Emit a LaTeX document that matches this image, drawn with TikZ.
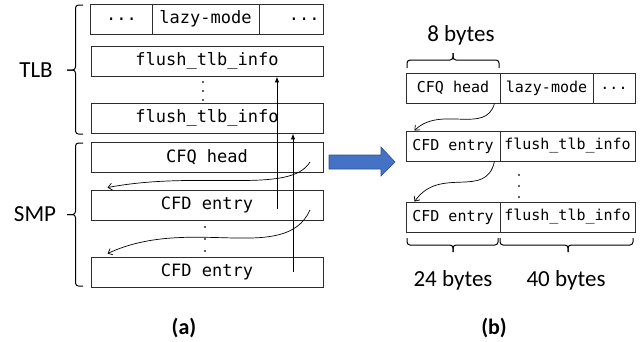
\documentclass[tikz,border=0pt]{standalone}
\usepackage{fontspec}
\setmainfont{Carlito}
\newfontfamily\codefont{DejaVu Sans Mono}
\usetikzlibrary{arrows.meta}
\definecolor{framegray}{RGB}{45,45,45}
\definecolor{flowblue}{RGB}{68,114,196}
\definecolor{flowedge}{RGB}{47,82,143}
\tikzset{
  cell/.style    = {draw=framegray, line width=0.9pt, minimum height=30pt,
                    inner sep=0pt, font=\codefont\fontsize{17}{20}\selectfont},
  cellb/.style   = {cell, font=\codefont\fontsize{15}{18}\selectfont},
  tag/.style     = {font=\fontsize{23}{27}\selectfont, inner sep=0pt},
  sub/.style     = {tag, font=\fontsize{22}{26}\selectfont\bfseries},
  % braces: short hooks, straight bar, short stem
  brc/.style     = {draw=black, line width=1pt, rounded corners=3pt},
  uparr/.style   = {-{Latex[length=6pt,width=4.5pt]}, line width=0.9pt},
  ptr/.style     = {-{Straight Barb[length=4pt,width=7pt]}, line width=0.7pt},
}

\begin{document}
\begin{tikzpicture}[x=1pt, y=-1pt]
    \useasboundingbox (0,0) rectangle (644,341);

    % (a): TLB and SMP structures as separate objects
    \node[cell, minimum width=61.5pt] (dA)    at (121.5,19) {...};
    \node[cell, minimum width=107pt]  (lazyA) at (205.5,19) {lazy-mode};
    \node[cell, minimum width=64pt, text width=57pt, align=right] (dB) at (291,19) {...};
    \node[cell, minimum width=232pt]  (fl1)   at (207,61)   {flush\_tlb\_info};
    \node[cell, minimum width=232pt]  (fl2)   at (207,118)  {flush\_tlb\_info};
    \node[cell, minimum width=232pt]  (cfq)   at (207,157.5) {CFQ head};
    \node[cell, minimum width=232pt]  (cfd1)  at (207,205)  {CFD entry};
    \node[cell, minimum width=232pt]  (cfd2)  at (207,272)  {CFD entry};

    \foreach \y in {82,91,100} \fill[framegray] (203,\y) circle (1.2pt);
    \foreach \y in {227,239,251} \fill[framegray] (205,\y) circle (1.2pt);

    \draw[brc] (83,5) -- (75.5,5) -- (75.5,70) -- (67,70);
    \draw[brc] (83,134) -- (75.5,134) -- (75.5,70) -- (67,70);
    \draw[brc] (83,143) -- (75.5,143) -- (75.5,214.5) -- (67,214.5);
    \draw[brc] (83,286) -- (75.5,286) -- (75.5,214.5) -- (67,214.5);
    \node[tag] (tlb) at (36,70)  {TLB};
    \node[tag] (smp) at (35,214) {SMP};

    \coordinate (u1) at (277,209);
    \coordinate (u2) at (293,272);
    \draw[uparr] (u1) -- (u1 |- fl1.south);
    \draw[uparr] (u2) -- (u2 |- fl2.south);

    \coordinate (q1) at (310,162);
    \coordinate (q2) at (310,210);
    \draw[ptr] (q1) .. controls (290,195) and (200,170) .. ([xshift=17pt,yshift=2pt]cfd1.north west);
    \draw[ptr] (q2) .. controls (285,265) and (190,215) .. ([xshift=17pt,yshift=3pt]cfd2.north west);

    \node[sub] (capa) at (184,328) {(a)};

    % block arrow between the two layouts
    \filldraw[fill=flowblue, draw=flowedge, line width=0.6pt]
      (329,155) -- (381,155) -- (381,147) -- (395,162) -- (381,176) -- (381,169) -- (329,169) -- cycle;

    % (b): merged layout
    \node[cellb, minimum width=94pt]  (cfqR)  at (453,88)    {CFQ head};
    \node[cellb, minimum width=93pt]  (lazyR) at (546.5,88)  {lazy-mode};
    \node[cellb, minimum width=42pt]  (dR)    at (614,88)    {...};
    \node[cellb, minimum width=94pt]  (cfdR1) at (453,146)   {CFD entry};
    \node[cellb, minimum width=135pt] (flR1)  at (567.5,146) {flush\_tlb\_info};
    \node[cellb, minimum width=94pt]  (cfdR2) at (453,217)   {CFD entry};
    \node[cellb, minimum width=135pt] (flR2)  at (567.5,217) {flush\_tlb\_info};

    \foreach \y in {175,186,197} \fill[framegray] (519,\y) circle (1.2pt);

    \draw[ptr] ([xshift=-6pt]cfqR.south east) .. controls (486,135) and (440,105) .. ([xshift=9pt]cfdR1.north west);
    \draw[ptr] ([xshift=-6pt]cfdR1.south east) .. controls (486,200) and (440,165) .. ([xshift=9pt]cfdR2.north west);

    \draw[brc] (407,68) -- (407,60) -- (453,60) -- (453,53);
    \draw[brc] (499,68) -- (499,60) -- (453,60) -- (453,53);
    \draw[brc] (407,238) -- (407,245) -- (453,245) -- (453,252);
    \draw[brc] (498,238) -- (498,245) -- (453,245) -- (453,252);
    \draw[brc] (500,238) -- (500,245) -- (568,245) -- (568,252);
    \draw[brc] (633,238) -- (633,245) -- (568,245) -- (568,252);

    \node[tag] (b8)  at (461,35)  {8 bytes};
    \node[tag] (b24) at (453,280) {24 bytes};
    \node[tag] (b40) at (566,280) {40 bytes};

    \node[sub] (capb) at (494,328) {(b)};
  \end{tikzpicture}
\end{document}
